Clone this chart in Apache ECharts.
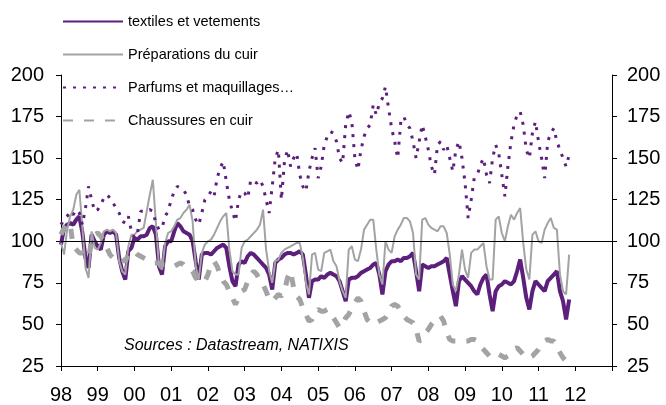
<html>
    <head>
        <meta charset="UTF-8" />
        <script src="https://cdn.jsdelivr.net/npm/echarts@6/dist/echarts.min.js"></script>
        <style>
            body { margin: 0; background: #fff; }
        </style>
    </head>
    <body>
        <div id="container" style="width: 666px; height: 405px;"></div>
        <script>
            // monthly indices, Jan 1998 -> Nov 2011
            var startYear = 1998;
            var yearTicks = ['98', '99', '00', '01', '02', '03', '04', '05', '06', '07', '08', '09', '10', '11', '12'];

            var textiles = [
                98, 108, 110, 111, 110, 113, 115, 105, 90, 84, 104, 100,
                97, 95, 104, 106, 105, 106, 104, 90, 82, 77, 94, 96,
                102, 101, 103, 103, 104, 108, 109, 104, 85, 80, 97, 100,
                100, 106, 111, 109, 106, 105, 104, 100, 88, 77, 92, 93,
                93, 92, 94, 96, 97, 98, 96, 85, 76, 73, 86, 88,
                87, 91, 93, 92, 90, 88, 86, 84, 80, 71, 87, 89,
                90, 92, 93, 93, 92, 93, 94, 92, 80, 66, 76, 77,
                77, 79, 78, 80, 81, 80, 79, 76, 70, 64, 77, 78,
                78, 79, 81, 82, 83, 84, 86, 87, 80, 68, 82, 86,
                88, 88, 89, 88, 90, 90, 91, 93, 82, 70, 86, 85,
                84, 85, 85, 86, 87, 88, 90, 80, 70, 61, 76, 79,
                77, 75, 73, 70, 68, 74, 78, 80, 68, 58, 70, 73,
                74, 76, 75, 74, 76, 82, 89, 78, 66, 59, 70, 76,
                74, 72, 70, 76, 78, 80, 82, 70, 64, 53, 65
            ];

            var preparations = [
                99, 92, 107, 115, 119, 128, 131, 108, 84, 78, 106, 96,
                95, 99, 106, 107, 106, 107, 105, 88, 82, 80, 97, 104,
                104, 106, 107, 108, 118, 128, 137, 111, 85, 83, 99, 105,
                106, 109, 113, 114, 117, 119, 122, 112, 85, 77, 93, 98,
                100, 101, 104, 108, 112, 115, 117, 95, 82, 80, 80, 96,
                100, 101, 103, 105, 107, 110, 119, 95, 82, 75, 88, 89,
                93, 95, 96, 97, 98, 99, 99, 90, 75, 68, 92, 93,
                83, 82, 93, 94, 95, 88, 85, 76, 70, 66, 95, 97,
                89, 88, 95, 107, 110, 113, 113, 95, 80, 74, 100, 95,
                93, 103, 107, 110, 114, 114, 112, 105, 80, 77, 113, 114,
                110, 108, 107, 106, 109, 109, 105, 92, 74, 70, 80, 95,
                83, 78, 93, 95, 95, 97, 99, 85, 77, 77, 113, 115,
                105, 100, 109, 116, 113, 117, 120, 99, 83, 77, 104, 106,
                100, 99, 107, 111, 114, 108, 107, 80, 70, 68, 92
            ];

            var parfums = [
                110, 113, 115, 118, 116, 119, 117, 110, 120, 133, 125, 118,
                119, 122, 126, 128, 126, 123, 120, 117, 112, 111, 115, 106,
                102, 105, 118, 118, 118, 119, 118, 111, 107, 108, 115, 118,
                125, 130, 133, 132, 131, 128, 121, 119, 113, 110, 117, 125,
                127, 130, 127, 138, 144, 148, 136, 125, 118, 112, 125, 130,
                129, 126, 137, 136, 135, 137, 133, 125, 117, 133, 150, 155,
                125, 148, 155, 145, 150, 153, 140, 133, 130, 142, 150, 156,
                138, 145, 158, 163, 166, 165, 160, 150, 147, 170, 178, 172,
                150, 143, 155, 163, 168, 170, 182, 176, 183, 186, 193, 180,
                168, 160, 150, 172, 175, 170, 168, 160, 150, 160, 170, 163,
                155, 145, 140, 158, 160, 155, 158, 150, 142, 155, 160, 150,
                135, 114, 125, 138, 140, 146, 150, 140, 135, 150, 158, 153,
                140, 127, 145, 160, 170, 176, 178, 170, 155, 150, 165, 172,
                160, 150, 138, 160, 165, 168, 160, 155, 150, 145, 152
            ];

            var chaussures = [
                104, 108, 111, 110, 97, 95, 93, 93, 92, 90, 100, 104,
                105, 103, 100, 96, 92, 90, 91, 90, 89, 88, 92, 93,
                94, 92, 91, 90, 89, 88, 87, 87, 87, 86, 86, 86,
                86, 85, 86, 87, 86, 84, 83, 82, 78, 76, 75, 76,
                80, 86, 88, 85, 80, 76, 74, 70, 66, 62, 66, 70,
                71, 76, 80, 82, 80, 76, 74, 70, 65, 64, 66, 68,
                67, 70, 78, 82, 72, 67, 65, 60, 56, 52, 53, 57,
                59, 58, 58, 59, 57, 54, 51, 48, 50, 54, 56, 60,
                63, 66, 64, 58, 53, 51, 50, 51, 52, 53, 54, 57,
                61, 62, 61, 58, 55, 53, 52, 51, 47, 40, 41, 45,
                47, 50, 52, 54, 55, 52, 45, 41, 40, 40, 40, 40,
                40, 40, 41, 41, 40, 37, 35, 33, 31, 30, 31, 32,
                31, 30, 31, 33, 35, 36, 34, 32, 30, 30, 31, 33,
                35, 38, 40, 41, 40, 40, 36, 33, 30, 28, 28
            ];

            var purple = '#5c1f7b';
            var grey = '#a3a3a3';
            var fontName = 'Liberation Sans, Arial, sans-serif';

            function toPoints(values) {
                var out = [];
                for (var i = 0; i < values.length; i++) {
                    out.push([startYear + i / 12, values[i]]);
                }
                return out;
            }

            function yAxisFor(side, gap) {
                return {
                    type: 'value',
                    position: side,
                    min: 25,
                    max: 200,
                    interval: 25,
                    splitLine: { show: false },
                    axisLine: { show: true, lineStyle: { color: '#000', width: 1 } },
                    axisTick: { show: true, length: 5, lineStyle: { color: '#000' } },
                    axisLabel: { color: '#000', fontSize: 20, fontFamily: fontName, margin: gap }
                };
            }

            var chart = echarts.init(document.getElementById('container'), null, { renderer: 'canvas' });

            var option = {
                animation: false,
                backgroundColor: '#fff',
                textStyle: { fontFamily: fontName },
                grid: { left: 61, right: 54, top: 75, bottom: 39, containLabel: false },
                legend: {
                    orient: 'vertical',
                    left: 57,
                    top: 9,
                    itemWidth: 60,
                    itemHeight: 14,
                    itemGap: 18,
                    itemStyle: { opacity: 0 },
                    textStyle: { color: '#000', fontSize: 14.5, fontFamily: fontName },
                    data: ['textiles et vetements', 'Préparations du cuir', 'Parfums et maquillages\u2026', 'Chaussures en cuir']
                },
                xAxis: {
                    type: 'value',
                    min: 1998,
                    max: 2013,
                    interval: 1,
                    splitLine: { show: false },
                    axisLine: { show: true, lineStyle: { color: '#000', width: 1 } },
                    axisTick: { show: true, length: 5, lineStyle: { color: '#000' } },
                    axisLabel: {
                        color: '#000',
                        fontSize: 20,
                        fontFamily: fontName,
                        margin: 19,
                        formatter: function (v) {
                            var k = Math.round(v) - startYear;
                            return yearTicks[k] || '';
                        }
                    }
                },
                yAxis: [yAxisFor('left', 17), yAxisFor('right', 15)],
                graphic: [{
                    type: 'text',
                    left: 124,
                    top: 338,
                    style: {
                        text: 'Sources : Datastream, NATIXIS',
                        font: 'italic 16px ' + fontName,
                        fill: '#000'
                    }
                }],
                series: [
                    {
                        name: 'textiles et vetements',
                        type: 'line',
                        symbol: 'none',
                        data: toPoints(textiles),
                        lineStyle: { color: purple, width: 4 },
                        itemStyle: { color: purple },
                        markLine: {
                            silent: true,
                            symbol: 'none',
                            label: { show: false },
                            lineStyle: { color: '#000', width: 1, type: 'solid' },
                            data: [{ yAxis: 100 }]
                        }
                    },
                    {
                        name: 'Préparations du cuir',
                        type: 'line',
                        symbol: 'none',
                        data: toPoints(preparations),
                        lineStyle: { color: grey, width: 2 },
                        itemStyle: { color: grey }
                    },
                    {
                        name: 'Parfums et maquillages\u2026',
                        type: 'line',
                        symbol: 'none',
                        data: toPoints(parfums),
                        lineStyle: { color: purple, width: 3, type: [3, 7] },
                        itemStyle: { color: purple }
                    },
                    {
                        name: 'Chaussures en cuir',
                        type: 'line',
                        symbol: 'none',
                        data: toPoints(chaussures),
                        lineStyle: { color: grey, width: 5, type: [10, 11] },
                        itemStyle: { color: grey }
                    }
                ]
            };

            chart.setOption(option);
        </script>
    </body>
</html>
